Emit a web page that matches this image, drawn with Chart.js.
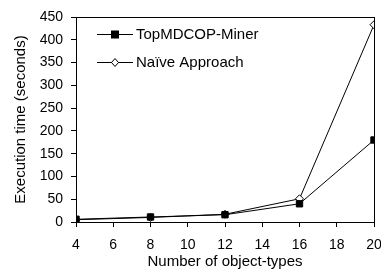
<!DOCTYPE html>
<html>
<head>
<meta charset="utf-8">
<script src="https://cdn.jsdelivr.net/npm/chart.js@4"></script>
<style>
  html, body { margin: 0; padding: 0; background: #fff; }
  #wrap { width: 381px; height: 271px; }
</style>
</head>
<body>
<div id="wrap"><canvas id="execChart" width="381" height="271"></canvas></div>
<script>
const objectTypes = [4, 8, 12, 16, 20];
const topMdcopTimes = [6, 11, 16, 40, 180];
const naiveTimes = [5, 10, 17, 51, 433];
const xTicks = [4, 6, 8, 10, 12, 14, 16, 18, 20];
const yTicks = [0, 50, 100, 150, 200, 250, 300, 350, 400, 450];

const FONT = "'Liberation Sans', Arial, sans-serif";

// frame around plot area + legend drawn inside it
const framePlugin = {
  id: "frame",
  afterDraw(chart) {
    const { ctx, chartArea: a } = chart;
    ctx.save();
    ctx.strokeStyle = "#000";
    ctx.lineWidth = 1;
    ctx.strokeRect(Math.round(a.left) + 0.5, Math.round(a.top) + 0.5,
      Math.round(a.right - a.left), Math.round(a.bottom - a.top));

    // legend
    ctx.font = "15px " + FONT;
    ctx.textBaseline = "middle";
    chart.data.datasets.forEach((ds, i) => {
      const y = 34 + i * 28;
      ctx.strokeStyle = "#000";
      ctx.beginPath();
      ctx.moveTo(97, y + 0.5);
      ctx.lineTo(133, y + 0.5);
      ctx.stroke();
      if (ds.pointStyle === "rect") {
        ctx.fillStyle = "#000";
        ctx.fillRect(111, y - 3.5, 8, 8);
      } else {
        ctx.fillStyle = "#fff";
        ctx.beginPath();
        ctx.moveTo(115, y - 3.5);
        ctx.lineTo(118.5, y + 0.5);
        ctx.lineTo(115, y + 4.5);
        ctx.lineTo(111.5, y + 0.5);
        ctx.closePath();
        ctx.fill();
        ctx.stroke();
      }
      ctx.fillStyle = "#000";
      ctx.fillText(ds.label, 136, y + 1);
    });
    ctx.restore();
  }
};

new Chart(document.getElementById("execChart").getContext("2d"), {
  type: "line",
  data: {
    datasets: [
      {
        label: "TopMDCOP-Miner",
        data: objectTypes.map((x, i) => ({ x, y: topMdcopTimes[i] })),
        borderColor: "#000",
        borderWidth: 1,
        pointStyle: "rect",
        pointRadius: 4.5,
        pointBackgroundColor: "#000",
        pointBorderColor: "#000",
        tension: 0
      },
      {
        label: "Naïve Approach",
        data: objectTypes.map((x, i) => ({ x, y: naiveTimes[i] })),
        borderColor: "#000",
        borderWidth: 1,
        pointStyle: "rectRot",
        pointRadius: 4,
        pointBackgroundColor: "#fff",
        pointBorderColor: "#000",
        pointBorderWidth: 1,
        tension: 0
      }
    ]
  },
  options: {
    responsive: false,
    animation: false,
    layout: { padding: { left: 0, right: 7, top: 17, bottom: 0 } },
    plugins: {
      legend: { display: false },
      tooltip: { enabled: false }
    },
    scales: {
      x: {
        type: "linear",
        min: 4,
        max: 20,
        afterBuildTicks(scale) { scale.ticks = xTicks.map(v => ({ value: v })); },
        afterFit(scale) {
          scale.height = 49;
          scale.paddingLeft = 0;
          scale.paddingRight = 0;
        },
        grid: { drawOnChartArea: false, tickLength: 5, color: "#000" },
        border: { color: "#000" },
        ticks: { color: "#000", font: { family: FONT, size: 14 }, padding: 10, maxRotation: 0 },
        title: { display: true, text: "Number of object-types", color: "#000",
          font: { family: FONT, size: 15 }, padding: { top: 0, bottom: 0 } }
      },
      y: {
        min: 0,
        max: 450,
        afterBuildTicks(scale) { scale.ticks = yTicks.map(v => ({ value: v })); },
        afterFit(scale) {
          scale.width = 76;
          scale.paddingTop = 0;
          scale.paddingBottom = 0;
        },
        grid: { drawOnChartArea: false, tickLength: 5, color: "#000" },
        border: { color: "#000" },
        ticks: { color: "#000", font: { family: FONT, size: 14 }, padding: 8 },
        title: { display: true, text: "Execution time (seconds)", color: "#000",
          font: { family: FONT, size: 15 }, padding: { top: 12, bottom: 0 } }
      }
    }
  },
  plugins: [framePlugin]
});
</script>
</body>
</html>
